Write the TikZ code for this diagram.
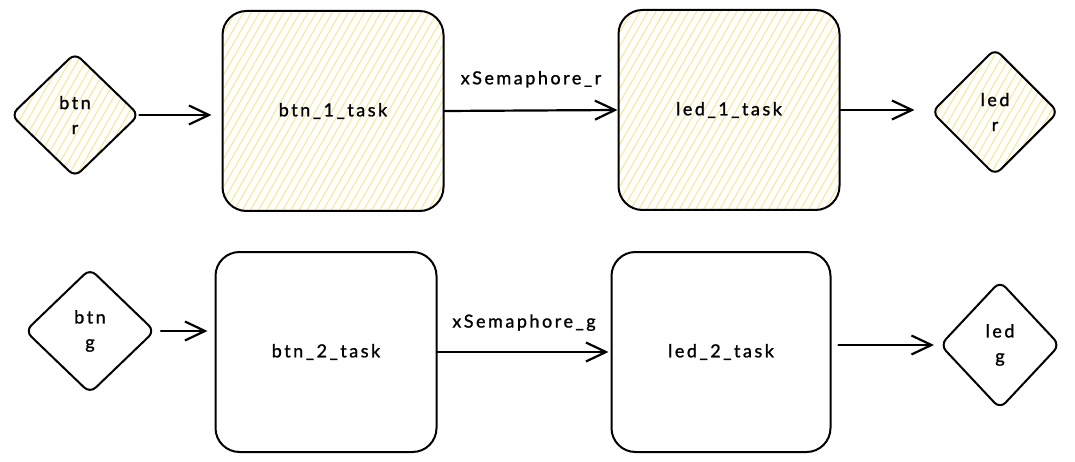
\documentclass[tikz,border=0pt]{standalone}
\usepackage{fontspec}
\setmainfont{Lato}[LetterSpace=14, FakeBold=1.2]
\usetikzlibrary{shapes.geometric,arrows.meta,patterns.meta}
\definecolor{hatch}{HTML}{FFE48A}
\tikzset{
  txt/.style={font=\fontsize{18}{25}\selectfont},
  task/.style={txt, draw=black, line width=2pt, rounded corners=24pt,
    minimum width=221pt, minimum height=200pt, inner sep=0pt},
  io/.style={txt, draw=black, line width=2pt, diamond, aspect=1,
    rounded corners=8pt, inner sep=0pt, align=center},
  hatched/.style={pattern={Lines[angle=60,distance=7pt,line width=1pt]},
    pattern color=hatch},
  flow/.style={line width=2.2pt, line cap=round,
    -{Straight Barb[length=20pt,width=19pt,line width=2.2pt]}},
  lbl/.style={txt, inner sep=0pt}
}
\begin{document}
\begin{tikzpicture}[x=1pt,y=-1pt]
\useasboundingbox (0,0) rectangle (1075,462);
% row 1
\node[io,hatched,minimum width=128pt,minimum height=124pt] (btnr) at (75,115) {btn\\r};
\node[task,hatched] (b1) at (333,111) {btn\_1\_task};
\node[task,hatched] (l1) at (729,110) {led\_1\_task};
\node[io,hatched,minimum width=127pt,minimum height=127pt] (ledr) at (995,112) {led\\r};
\draw[flow, shorten >=10pt] (btnr.east) -- (btnr.east -| b1.west);
\draw[flow] (b1.east) -- node[lbl, midway, above=22pt] (sr) {xSemaphore\_r} (l1.west);
\draw[flow, shorten >=16pt] (l1.east) -- (l1.east -| ledr.west);
% row 2
\node[io,minimum width=130pt,minimum height=125pt] (btng) at (90,331) {btn\\g};
\node[task] (b2) at (326,352) {btn\_2\_task};
\node[task,minimum width=219pt] (l2) at (721,352) {led\_2\_task};
\node[io,minimum width=120pt,minimum height=128pt] (ledg) at (1000,345) {led\\g};
\draw[flow, shorten <=5pt, shorten >=7pt] (btng.east) -- (btng.east -| b2.west);
\draw[flow, shorten >=2pt] (b2.east) -- node[lbl, midway, above=20pt] (sg) {xSemaphore\_g} (l2.west);
\draw[flow, shorten <=7pt, shorten >=5pt] (l2.east |- ledg.west) -- (ledg.west);
\end{tikzpicture}
\end{document}
